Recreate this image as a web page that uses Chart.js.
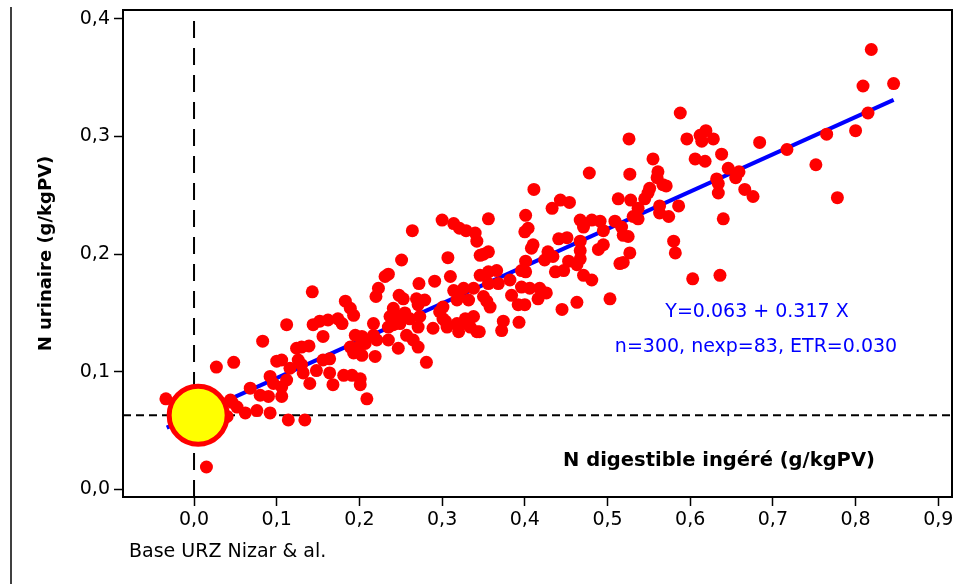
<!DOCTYPE html>
<html>
<head>
<meta charset="utf-8">
<script src="https://cdn.jsdelivr.net/npm/chart.js@4.4.1/dist/chart.umd.min.js"></script>
<style>
  html, body { margin: 0; padding: 0; background: #fff; }
  #wrap { width: 953px; height: 584px; }
</style>
</head>
<body>
<div id="wrap"><canvas id="chart" width="953" height="584"></canvas></div>
<script>
// Axis ranges and tick values
const xRange = [-0.0859, 0.9166];
const yRange = [-0.0065, 0.4076];
const xTicks = [0, 0.1, 0.2, 0.3, 0.4, 0.5, 0.6, 0.7, 0.8, 0.9];
const yTicks = [0, 0.1, 0.2, 0.3, 0.4];

// Regression: N urinaire = intercept + slope * N digestible ingéré
const intercept = 0.063;
const slope = 0.317;
const fitSpan = [-0.033, 0.846];
const statsLine = 'n=300, nexp=83, ETR=0.030';

// Reference lines and the mean point
const refX = 0;
const refY = 0.063;
const meanPoint = [0.005, 0.063];

// Texts
const xTitle = 'N digestible ingéré (g/kgPV)';
const yTitle = 'N urinaire (g/kgPV)';
const sourceNote = 'Base URZ Nizar & al.';

// Observations: [N digestible ingéré, N urinaire] in g/kgPV
const observations = [
  [0.143, 0.168], [0.112, 0.140], [0.144, 0.140], [0.152, 0.143], [0.156, 0.130],
  [0.083, 0.126], [0.027, 0.104], [0.048, 0.108], [0.124, 0.120], [0.139, 0.122],
  [0.100, 0.109], [0.106, 0.110], [0.116, 0.103], [0.126, 0.110], [0.132, 0.099],
  [0.140, 0.090], [0.148, 0.101], [0.092, 0.096], [0.096, 0.090], [0.106, 0.087],
  [0.112, 0.093], [0.068, 0.086], [0.080, 0.080], [0.090, 0.079], [0.106, 0.079],
  [-0.034, 0.077], [0.046, 0.074], [0.052, 0.070], [0.062, 0.065], [0.076, 0.067],
  [0.092, 0.065], [0.114, 0.059], [0.134, 0.059], [0.015, 0.019], [0.040, 0.062],
  [0.044, 0.076],

  [0.300, 0.229], [0.314, 0.226], [0.321, 0.222], [0.329, 0.220], [0.340, 0.218],
  [0.342, 0.211], [0.264, 0.220], [0.251, 0.195], [0.307, 0.197], [0.346, 0.199],
  [0.231, 0.181], [0.235, 0.183], [0.272, 0.175], [0.291, 0.177], [0.310, 0.181],
  [0.223, 0.171], [0.220, 0.164], [0.248, 0.165], [0.253, 0.162], [0.269, 0.162],
  [0.279, 0.161], [0.271, 0.157], [0.314, 0.169], [0.326, 0.171], [0.338, 0.171],
  [0.318, 0.161], [0.332, 0.161], [0.183, 0.160], [0.189, 0.154], [0.193, 0.148],
  [0.241, 0.154], [0.162, 0.144], [0.174, 0.145], [0.179, 0.141], [0.217, 0.141],
  [0.237, 0.147], [0.245, 0.148], [0.255, 0.150], [0.261, 0.145], [0.241, 0.140],
  [0.249, 0.141], [0.235, 0.138], [0.273, 0.147], [0.271, 0.138], [0.297, 0.151],
  [0.301, 0.145], [0.306, 0.138], [0.320, 0.140], [0.328, 0.145], [0.338, 0.147],
  [0.334, 0.138], [0.342, 0.134], [0.289, 0.137], [0.195, 0.131], [0.203, 0.130],
  [0.189, 0.121], [0.199, 0.121], [0.207, 0.124], [0.193, 0.116], [0.203, 0.114],
  [0.217, 0.131], [0.221, 0.127], [0.235, 0.127], [0.247, 0.120], [0.257, 0.131],
  [0.265, 0.127], [0.271, 0.121], [0.219, 0.113], [0.281, 0.108], [0.130, 0.121],
  [0.156, 0.110], [0.164, 0.111], [0.130, 0.106], [0.164, 0.099], [0.168, 0.089],
  [0.181, 0.097], [0.191, 0.097], [0.201, 0.094], [0.201, 0.089], [0.209, 0.077],

  [0.478, 0.269], [0.411, 0.255], [0.433, 0.239], [0.443, 0.246], [0.454, 0.244],
  [0.513, 0.247], [0.356, 0.230], [0.401, 0.233], [0.400, 0.219], [0.404, 0.222],
  [0.467, 0.229], [0.481, 0.229], [0.491, 0.228], [0.471, 0.223], [0.495, 0.220],
  [0.509, 0.228], [0.410, 0.208], [0.408, 0.205], [0.441, 0.213], [0.451, 0.214],
  [0.467, 0.211], [0.467, 0.203], [0.495, 0.208], [0.489, 0.204], [0.350, 0.200],
  [0.356, 0.202], [0.428, 0.202], [0.434, 0.198], [0.424, 0.195], [0.467, 0.196],
  [0.453, 0.194], [0.463, 0.191], [0.437, 0.185], [0.447, 0.186], [0.401, 0.194],
  [0.401, 0.185], [0.396, 0.186], [0.515, 0.192], [0.346, 0.182], [0.356, 0.185],
  [0.366, 0.186], [0.356, 0.175], [0.368, 0.175], [0.382, 0.178], [0.471, 0.182],
  [0.481, 0.178], [0.396, 0.172], [0.406, 0.171], [0.418, 0.171], [0.426, 0.167],
  [0.416, 0.162], [0.384, 0.165], [0.392, 0.157], [0.400, 0.157], [0.445, 0.153],
  [0.463, 0.159], [0.503, 0.162], [0.320, 0.164], [0.350, 0.164], [0.358, 0.155],
  [0.354, 0.160], [0.301, 0.155], [0.304, 0.143], [0.318, 0.141], [0.320, 0.134],
  [0.332, 0.140], [0.345, 0.134], [0.374, 0.143], [0.372, 0.135], [0.393, 0.142],

  [0.588, 0.320], [0.526, 0.298], [0.596, 0.298], [0.612, 0.301], [0.619, 0.305],
  [0.614, 0.296], [0.628, 0.298], [0.684, 0.295], [0.555, 0.281], [0.606, 0.281],
  [0.618, 0.279], [0.638, 0.285], [0.527, 0.268], [0.561, 0.270], [0.560, 0.265],
  [0.646, 0.273], [0.659, 0.270], [0.655, 0.265], [0.632, 0.264], [0.634, 0.260],
  [0.634, 0.252], [0.567, 0.259], [0.571, 0.258], [0.551, 0.256], [0.549, 0.252],
  [0.545, 0.247], [0.528, 0.246], [0.666, 0.255], [0.676, 0.249], [0.563, 0.241],
  [0.563, 0.235], [0.574, 0.232], [0.586, 0.241], [0.537, 0.239], [0.531, 0.232],
  [0.537, 0.230], [0.640, 0.230], [0.517, 0.223], [0.519, 0.216], [0.525, 0.215],
  [0.580, 0.211], [0.582, 0.201], [0.527, 0.201], [0.519, 0.193], [0.603, 0.179],
  [0.636, 0.182],

  [0.819, 0.374], [0.809, 0.343], [0.846, 0.345], [0.815, 0.320], [0.765, 0.302],
  [0.800, 0.305], [0.717, 0.289], [0.752, 0.276], [0.778, 0.248]
];

const FONT = "'DejaVu Sans', 'Verdana', sans-serif";
Chart.defaults.font.family = FONT;
Chart.defaults.color = '#000';

const commaLabel = v => Number(v).toFixed(1).replace('.', ',');

// Fixed axis boxes: tick labels may overhang the plot edges
function fixBox(size, isX) {
  return s => {
    if (isX) s.height = size; else s.width = size;
    s.paddingTop = 0;
    s.paddingBottom = 0;
    s.paddingLeft = 0;
    s.paddingRight = 0;
  };
}

// Frame, left rule and free-standing texts
const notesPlugin = {
  id: 'notes',
  afterDatasetsDraw(chart) {
    const { ctx, chartArea: a } = chart;
    ctx.save();
    ctx.strokeStyle = '#000';
    ctx.lineWidth = 2;
    ctx.strokeRect(a.left, a.top, a.right - a.left, a.bottom - a.top);
    ctx.lineWidth = 1.5;
    ctx.beginPath();
    ctx.moveTo(11, 7);
    ctx.lineTo(11, 584);
    ctx.stroke();
    ctx.restore();
  },
  afterDraw(chart) {
    const { ctx } = chart;
    ctx.save();
    ctx.textBaseline = 'middle';

    ctx.fillStyle = '#000';
    ctx.font = 'bold 19.5px ' + FONT;
    ctx.textAlign = 'center';
    ctx.fillText(xTitle, 719, 461);

    ctx.fillStyle = '#0000ff';
    ctx.font = '19px ' + FONT;
    const equation = 'Y=' + intercept.toFixed(3) + ' + ' + slope.toFixed(3) + ' X';
    ctx.fillText(equation, 757, 312);
    ctx.fillText(statsLine, 756, 347);

    ctx.fillStyle = '#000';
    ctx.textAlign = 'left';
    ctx.fillText(sourceNote, 129, 552);
    ctx.restore();
  }
};

new Chart(document.getElementById('chart'), {
  type: 'scatter',
  data: {
    datasets: [
      {
        label: 'moyenne',
        data: [{ x: meanPoint[0], y: meanPoint[1] }],
        pointRadius: 29,
        pointBackgroundColor: '#ffff00',
        pointBorderColor: '#ff0000',
        pointBorderWidth: 5,
        order: 0
      },
      {
        label: 'observations',
        data: observations.map(([x, y]) => ({ x, y })),
        pointRadius: 6.5,
        pointBackgroundColor: '#ff0000',
        pointBorderWidth: 0,
        order: 1
      },
      {
        label: 'régression',
        data: fitSpan.map(x => ({ x, y: intercept + slope * x })),
        showLine: true,
        borderColor: '#0000ff',
        borderWidth: 4,
        pointRadius: 0,
        order: 2
      },
      {
        label: 'x = 0',
        data: [{ x: refX, y: yRange[0] }, { x: refX, y: yRange[1] }],
        showLine: true,
        borderColor: '#000',
        borderWidth: 2,
        borderDash: [17, 10],
        pointRadius: 0,
        order: 3
      },
      {
        label: 'y = a',
        data: [{ x: xRange[0], y: refY }, { x: xRange[1], y: refY }],
        showLine: true,
        borderColor: '#000',
        borderWidth: 2,
        borderDash: [8, 5],
        pointRadius: 0,
        order: 4
      }
    ]
  },
  options: {
    responsive: false,
    animation: false,
    events: [],
    layout: { autoPadding: false, padding: { top: 10, right: 1, bottom: 0, left: 0 } },
    plugins: { legend: { display: false }, tooltip: { enabled: false } },
    scales: {
      x: {
        type: 'linear',
        min: xRange[0],
        max: xRange[1],
        afterBuildTicks: s => { s.ticks = xTicks.map(v => ({ value: v })); },
        afterFit: fixBox(87, true),
        ticks: {
          callback: commaLabel,
          font: { size: 19 },
          color: '#000',
          padding: 3,
          maxRotation: 0,
          autoSkip: false
        },
        grid: { drawOnChartArea: false, drawTicks: true, tickLength: 9, tickWidth: 1.5, tickColor: '#000' },
        border: { display: true, color: '#000', width: 2 }
      },
      y: {
        type: 'linear',
        min: yRange[0],
        max: yRange[1],
        afterBuildTicks: s => { s.ticks = yTicks.map(v => ({ value: v })); },
        afterFit: fixBox(123, false),
        ticks: {
          callback: commaLabel,
          font: { size: 19 },
          color: '#000',
          padding: 4,
          autoSkip: false
        },
        grid: { drawOnChartArea: false, drawTicks: true, tickLength: 9, tickWidth: 1.5, tickColor: '#000' },
        border: { display: true, color: '#000', width: 2 },
        title: {
          display: true,
          text: yTitle,
          font: { size: 18, weight: 'bold' },
          color: '#000',
          padding: { top: 36, bottom: 0 }
        }
      }
    }
  },
  plugins: [notesPlugin]
});
</script>
</body>
</html>
